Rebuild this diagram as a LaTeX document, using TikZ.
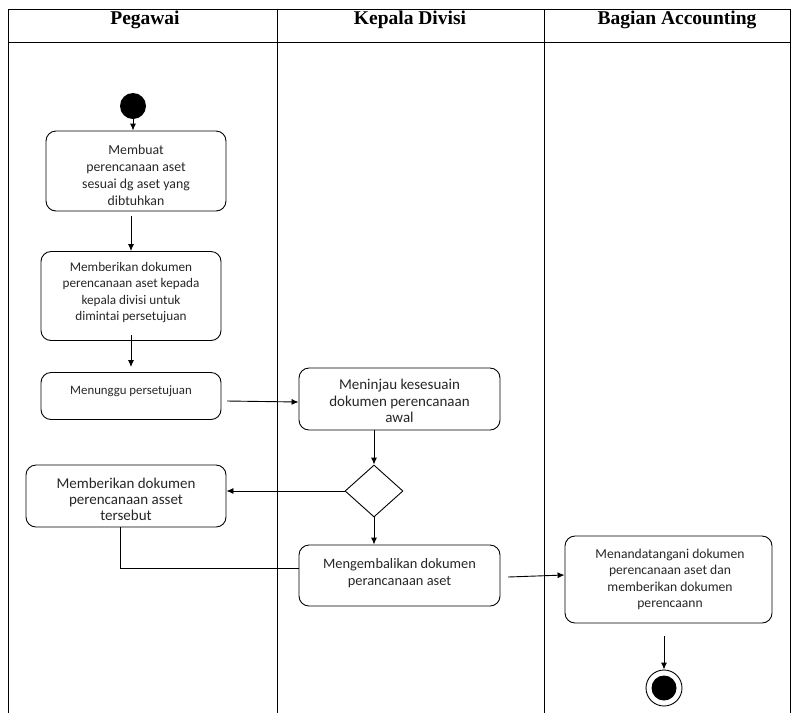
\documentclass[tikz,border=0pt]{standalone}
\usepackage{fontspec}
\setmainfont{Carlito}
\newfontfamily\hdrfont{Liberation Serif}
\usetikzlibrary{shapes.geometric,arrows.meta}
\begin{document}
\begin{tikzpicture}[x=1pt,y=-1pt,
  lane/.style={line width=1pt},
  act/.style={draw,rounded corners=10pt,line width=0.9pt,inner sep=0pt},
  lbl/.style={align=center,inner sep=0pt,text=black!85},
  flow/.style={-{Latex[length=7pt,width=6pt]},line width=0.9pt},
  plain/.style={line width=0.9pt},
  hdr/.style={font=\hdrfont\bfseries\fontsize{19.5}{22}\selectfont}]
\useasboundingbox (0,0) rectangle (797,713);
% table
\draw[lane] (8,713) -- (8,9) -- (790,9) -- (790,713);
\draw[lane] (8,42) -- (790,42);
\draw[lane] (277,9) -- (277,713);
\draw[lane] (544,9) -- (544,713);
\node[hdr] (h1) at (145,19.5) {Pegawai};
\node[hdr] (h2) at (410,19.5) {Kepala Divisi};
\node[hdr] (h3) at (677,19.5) {Bagian Accounting};
% start
\node[circle,fill=black,minimum size=26pt,inner sep=0pt] (start) at (133,106) {};
% boxes
\node[act,minimum width=180pt,minimum height=80pt] (b1) at (136,171) {};
\node[lbl,font=\fontsize{13.8}{17}\selectfont] (b1t) at (136,175) {Membuat\\perencanaan aset\\sesuai dg aset yang\\dibtuhkan};
\node[act,minimum width=180pt,minimum height=89pt] (b2) at (131,296) {};
\node[lbl,font=\fontsize{13.2}{16.5}\selectfont] (b2t) at (131,292.5) {Memberikan dokumen\\perencanaan aset kepada\\kepala divisi untuk\\dimintai persetujuan};
\node[act,minimum width=180pt,minimum height=47pt] (b3) at (131,396) {};
\node[lbl,font=\fontsize{12.8}{16}\selectfont] (b3t) at (131,391) {Menunggu persetujuan};
\node[act,minimum width=201pt,minimum height=62pt] (b4) at (399.5,399) {};
\node[lbl,font=\fontsize{15}{16.5}\selectfont] (b4t) at (399.5,401) {Meninjau kesesuain\\dokumen perencanaan\\awal};
\node[draw,diamond,aspect=1.1,minimum width=58pt,minimum height=52pt,inner sep=0pt,line width=0.9pt] (d) at (374,491) {};
\node[act,minimum width=200pt,minimum height=62pt] (b5) at (126,496) {};
\node[lbl,font=\fontsize{15}{16}\selectfont] (b5t) at (126,499) {Memberikan dokumen\\perencanaan asset\\tersebut};
\node[act,minimum width=201pt,minimum height=61pt] (b6) at (399.5,575.5) {};
\node[lbl,font=\fontsize{14.4}{17}\selectfont] (b6t) at (399.5,573.5) {Mengembalikan dokumen\\perancanaan aset};
\node[act,minimum width=207pt,minimum height=87pt] (b7) at (668.5,579.5) {};
\node[lbl,font=\fontsize{13.6}{16.5}\selectfont] (b7t) at (670,579.5) {Menandatangani dokumen\\perencanaan aset dan\\memberikan dokumen\\perencaann};
\node[circle,draw,line width=0.9pt,minimum size=36pt,inner sep=0pt] (end) at (664,688) {};
\node[circle,fill=black,minimum size=25pt,inner sep=0pt] (endin) at (664,688) {};
% coordinates for free ends
\coordinate (a1s) at (131,216);
\coordinate (a2s) at (131,335);
\coordinate (a3s) at (227,401);
\coordinate (a6s) at (508,577);
\coordinate (a7s) at (664,636);
\coordinate (bend) at (120,568);
% flows
\draw[flow] (start) -- (start |- b1.north);
\draw[flow] (a1s) -- (a1s |- b2.north);
\draw[flow] (a2s) -- (131,367);
\draw[flow] (a3s) -- (b4.west |- 0,402);
\draw[flow] (b4.south -| d) -- (d.north);
\draw[flow] (d.west) -- (b5.east |- d.west);
\draw[flow] (d.south) -- (d |- b6.north);
\draw[plain] (bend |- b5.south) -- (bend) -- (b6.west |- bend);
\draw[flow] (a6s) -- (b7.west |- 0,575);
\draw[flow] (a7s) -- (end.north);
\end{tikzpicture}
\end{document}
